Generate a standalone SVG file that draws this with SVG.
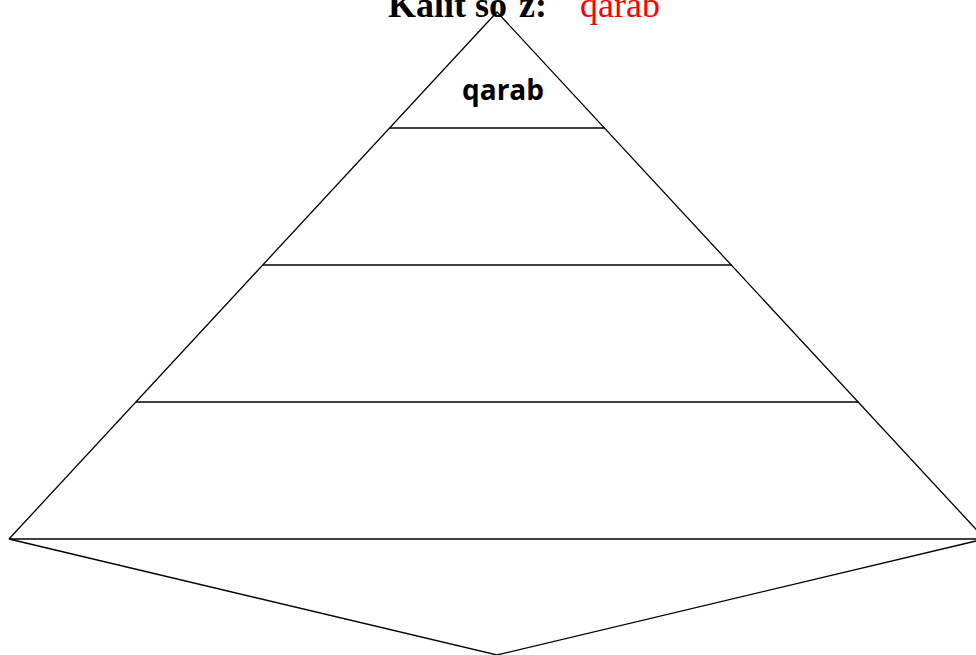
<svg xmlns="http://www.w3.org/2000/svg" width="976" height="655" viewBox="0 0 976 655">
<style>
.ln{stroke:#000;stroke-width:1.3;fill:none}
.title{font-family:"Liberation Serif","Times New Roman",serif;font-size:36px}
.lbl{font-family:"Open Sans","Liberation Sans",sans-serif;font-weight:bold;font-size:28px;fill:#000}
</style>
<rect width="976" height="655" fill="#fff"/>
<g id="title">
<text class="title" x="388" y="17" font-weight="bold" fill="#000">Kalit so´z:</text>
<text class="title" x="580" y="17" fill="#ff0000">qarab</text>
</g>
<g id="connectors">
<polyline class="ln" points="9,539 497,12 985,539"/>
<line class="ln" x1="390" y1="128" x2="605" y2="128"/>
<line class="ln" x1="263" y1="265" x2="732" y2="265"/>
<line class="ln" x1="136" y1="402" x2="859" y2="402"/>
<line class="ln" x1="9" y1="539" x2="976" y2="539"/>
<polyline class="ln" points="9,539 497,655 976,541"/>
</g>
<g id="node-top">
<text class="lbl" x="503" y="100" text-anchor="middle">qarab</text>
</g>
</svg>
